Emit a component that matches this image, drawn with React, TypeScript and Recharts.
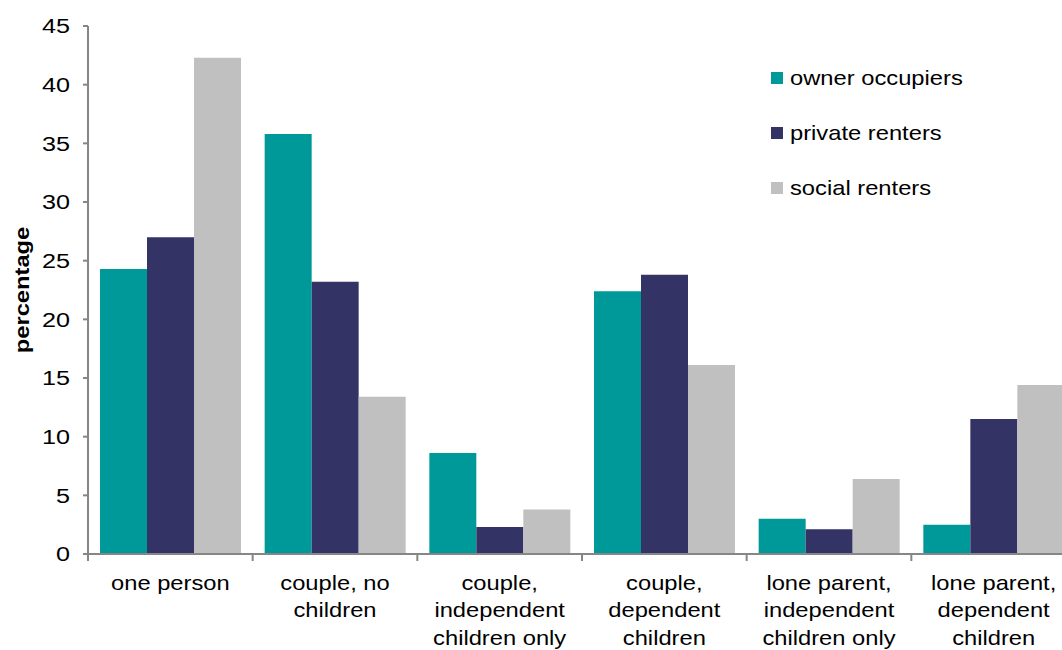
import React from 'react';
import { BarChart, Bar, XAxis, YAxis, Legend } from 'recharts';

const categories = [
  'one person',
  'couple, no\nchildren',
  'couple,\nindependent\nchildren only',
  'couple,\ndependent\nchildren',
  'lone parent,\nindependent\nchildren only',
  'lone parent,\ndependent\nchildren',
];
const ownerOccupiers = [24.3, 35.8, 8.6, 22.4, 3.0, 2.5];
const privateRenters = [27.0, 23.2, 2.3, 23.8, 2.1, 11.5];
const socialRenters = [42.3, 13.4, 3.8, 16.1, 6.4, 14.4];
const yTicks = [0, 5, 10, 15, 20, 25, 30, 35, 40, 45];

const seriesDefs = [
  { key: 'owner', name: 'owner occupiers', color: '#009999' },
  { key: 'private', name: 'private renters', color: '#333366' },
  { key: 'social', name: 'social renters', color: '#C0C0C0' },
];

const data = categories.map((c, i) => ({
  category: c,
  owner: ownerOccupiers[i],
  private: privateRenters[i],
  social: socialRenters[i],
}));

const FONT = '"Liberation Sans", Arial, sans-serif';
const SX = 1.13;
const SXD = 1.2;
const AXIS = '#868686';

const YTick = (props: any) => {
  const { x, y, payload } = props;
  return (
    <g transform={`translate(${x},${y}) scale(${SXD},1)`}>
      <text x={0} y={0} dy="0.35em" textAnchor="end" fontSize={21} fontFamily={FONT} fill="#000">
        {payload.value}
      </text>
    </g>
  );
};

const XTick = (props: any) => {
  const { x, y, payload, width, visibleTicksCount } = props;
  const lines = String(payload.value).split('\n');
  const half = width && visibleTicksCount ? width / visibleTicksCount / 2 : 0;
  return (
    <g>
      {half ? (
        <line x1={x - half} x2={x - half} y1={y} y2={y + 7} stroke={AXIS} strokeWidth={2} />
      ) : null}
      <g transform={`translate(${x},${y + 36}) scale(${SX},1)`}>
        <text x={0} y={0} textAnchor="middle" fontSize={21} fontFamily={FONT} fill="#000">
          {lines.map((l, i) => (
            <tspan key={i} x={0} dy={i === 0 ? 0 : 27.5}>
              {l}
            </tspan>
          ))}
        </text>
      </g>
    </g>
  );
};

const YLabel = (props: any) => {
  const vb = props.viewBox || {};
  const cy = (vb.y || 0) + (vb.height || 0) / 2;
  return (
    <g transform={`translate(28.6,${cy}) rotate(-90) scale(${SX},1)`}>
      <text x={0} y={0} textAnchor="middle" fontSize={21} fontWeight="bold" fontFamily={FONT} fill="#000">
        percentage
      </text>
    </g>
  );
};

const LegendContent = () => (
  <div style={{ fontFamily: FONT }}>
    {seriesDefs.map((s) => (
      <div key={s.key} style={{ height: 55, display: 'flex', alignItems: 'center' }}>
        <div style={{ width: 12, height: 12, background: s.color, marginRight: 7, flexShrink: 0 }} />
        <span
          style={{
            fontSize: 21,
            color: '#000',
            display: 'inline-block',
            transform: `scaleX(${SX})`,
            transformOrigin: 'left center',
            whiteSpace: 'nowrap',
          }}
        >
          {s.name}
        </span>
      </div>
    ))}
  </div>
);

export default function App() {
  return (
    <div
      style={{
        position: 'absolute',
        left: 0,
        top: 0,
        width: 1062,
        height: 650,
        overflow: 'hidden',
        background: '#fff',
      }}
    >
      <BarChart
        width={1076}
        height={650}
        data={data}
        margin={{ top: 26, right: 0, left: 0, bottom: 0 }}
        barCategoryGap={12}
        barGap={0}
      >
        <XAxis
          dataKey="category"
          height={96}
          interval={0}
          tickLine={false}
          tickSize={0}
          tickMargin={0}
          axisLine={{ stroke: AXIS, strokeWidth: 2 }}
          tick={<XTick />}
        />
        <YAxis
          width={88}
          domain={[0, 45]}
          ticks={yTicks}
          interval={0}
          tickSize={5}
          tickMargin={13}
          axisLine={{ stroke: AXIS, strokeWidth: 2 }}
          tickLine={{ stroke: AXIS, strokeWidth: 2 }}
          tick={<YTick />}
          label={{ content: <YLabel /> } as any}
        />
        <Legend
          layout="vertical"
          verticalAlign="middle"
          align="center"
          content={<LegendContent />}
          wrapperStyle={{ position: 'absolute', left: 771, top: 50.5, width: 260 }}
        />
        {seriesDefs.map((s) => (
          <Bar key={s.key} dataKey={s.key} name={s.name} fill={s.color} isAnimationActive={false} />
        ))}
      </BarChart>
    </div>
  );
}
